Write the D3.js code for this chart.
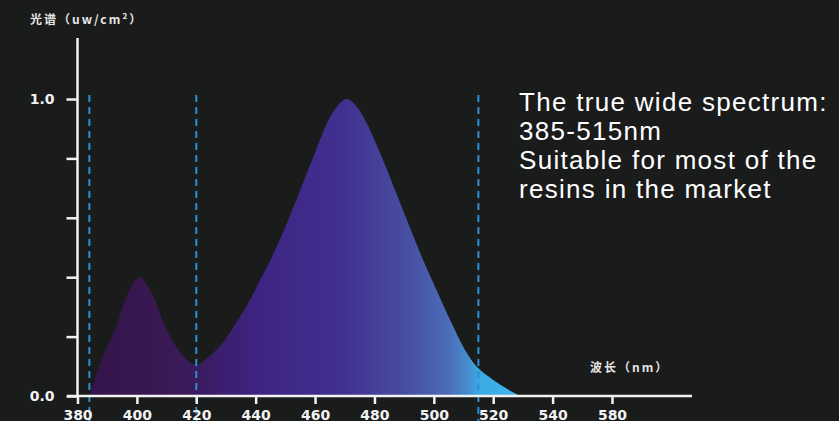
<!DOCTYPE html>
<html>
<head>
<meta charset="utf-8">
<script src="https://cdn.jsdelivr.net/npm/d3@7"></script>
<style>
  html, body { margin: 0; padding: 0; background: #1a1b1b; }
  svg { display: block; }
</style>
</head>
<body>
<svg id="chart" width="839" height="421"></svg>
<script>
// ---- data ----
const wavelengths = [384, 388, 393, 397, 400.8, 405, 409.5, 413, 416.8, 420, 424, 429, 433, 437.5, 441.5, 445.5, 450.5, 455, 459.5, 464, 467, 470.6, 474, 477.4, 482.4, 486.9, 491.4, 495.9, 500.9, 506, 510.5, 514.4, 520, 524.5, 529];
const intensity   = [0, 0.12, 0.233, 0.346, 0.40, 0.346, 0.233, 0.17, 0.121, 0.104, 0.13, 0.18, 0.24, 0.313, 0.39, 0.469, 0.581, 0.694, 0.806, 0.918, 0.97, 1.0, 0.975, 0.918, 0.806, 0.694, 0.581, 0.469, 0.357, 0.245, 0.155, 0.099, 0.054, 0.025, 0];
const xTickValues = [380, 400, 420, 440, 460, 480, 500, 520, 540, 560];
const xTickLabels = ["380", "400", "420", "440", "460", "480", "500", "520", "540", "580"];
const yTickValues = [0, 0.2, 0.4, 0.6, 0.8, 1.0];
const yTickLabels = ["0.0", "", "", "", "", "1.0"];
const markerWavelengths = [384, 420, 515];
const yAxisTitle = "光谱（uw/cm²）";
const xAxisTitle = "波长（nm）";
const noteLines = ["The true wide spectrum:", "385-515nm", "Suitable for most of the", "resins in the market"];
const gradientStops = [
  [384, "#33144a"], [405, "#391851"], [420, "#3b1b5e"], [440, "#3d2382"],
  [470, "#41318f"], [492, "#4850a3"], [505, "#4a6db8"], [511, "#4889cb"],
  [515, "#3aa9e4"], [530, "#45b6ec"]
];

// ---- layout ----
const svg = d3.select("#chart");
svg.append("rect").attr("width", 839).attr("height", 421).attr("fill", "#1a1b1b");

const x = d3.scaleLinear().domain([380, 560]).range([77.5, 612]);
const y = d3.scaleLinear().domain([0, 1.2]).range([396, 39.6]);

const data = wavelengths.map((w, i) => ({ w, v: intensity[i] }));

// gradient
const defs = svg.append("defs");
const grad = defs.append("linearGradient")
  .attr("id", "specGrad")
  .attr("gradientUnits", "userSpaceOnUse")
  .attr("x1", x(384)).attr("x2", x(530)).attr("y1", 0).attr("y2", 0);
gradientStops.forEach(([w, c]) => {
  grad.append("stop").attr("offset", (w - 384) / (530 - 384)).attr("stop-color", c);
});
defs.append("clipPath").attr("id", "plotClip").append("rect")
  .attr("x", 0).attr("y", 0).attr("width", 839).attr("height", y(0));

const area = d3.area()
  .x(d => x(d.w))
  .y0(y(0))
  .y1(d => y(d.v))
  .curve(d3.curveCatmullRom.alpha(0.5));

svg.append("path").datum(data).attr("d", area).attr("fill", "url(#specGrad)")
  .attr("clip-path", "url(#plotClip)");

// dashed markers
svg.selectAll("line.marker").data(markerWavelengths).enter().append("line")
  .attr("class", "marker")
  .attr("x1", d => x(d)).attr("x2", d => x(d))
  .attr("y1", y(1.0) - 4).attr("y2", 421)
  .attr("stroke", "#2b8fd6").attr("stroke-width", 2)
  .attr("stroke-dasharray", "7,5");

const axisColor = "#f2f2f2";

// y axis
const yAxis = d3.axisLeft(y).tickValues(yTickValues)
  .tickFormat((d, i) => yTickLabels[i]).tickSize(11).tickPadding(12).tickSizeOuter(0);
const gy = svg.append("g").attr("transform", `translate(${x(380)},0)`).call(yAxis);
gy.select(".domain").remove();
gy.selectAll(".tick line").attr("stroke", axisColor).attr("stroke-width", 2.5);
gy.selectAll(".tick text").attr("fill", axisColor)
  .style("font-family", "'DejaVu Sans', sans-serif").style("font-weight", "bold").style("font-size", "14px");
svg.append("line").attr("x1", x(380)).attr("x2", x(380)).attr("y1", 38).attr("y2", y(0))
  .attr("stroke", axisColor).attr("stroke-width", 2.5);

// x axis
const xAxis = d3.axisBottom(x).tickValues(xTickValues)
  .tickFormat((d, i) => xTickLabels[i]).tickSize(8).tickSizeOuter(0);
const gx = svg.append("g").attr("transform", `translate(0,${y(0)})`).call(xAxis);
gx.select(".domain").remove();
gx.selectAll(".tick line").attr("stroke", axisColor).attr("stroke-width", 2.5);
gx.selectAll(".tick text").attr("fill", axisColor).attr("y", 23.5).attr("dy", 0)
  .style("font-family", "'DejaVu Sans', sans-serif").style("font-weight", "bold").style("font-size", "14px");
svg.append("line").attr("x1", 67).attr("x2", 692).attr("y1", y(0)).attr("y2", y(0))
  .attr("stroke", axisColor).attr("stroke-width", 2.5);

// axis titles
svg.append("text").attr("x", 30).attr("y", 24).text(yAxisTitle)
  .attr("fill", "#e6e6e6")
  .style("font-family", "'Noto Sans CJK SC', sans-serif").style("font-weight", "bold")
  .style("font-size", "12px").style("letter-spacing", "2px");
svg.append("text").attr("x", 590).attr("y", 372).text(xAxisTitle)
  .attr("fill", "#e6e6e6")
  .style("font-family", "'Noto Sans CJK SC', sans-serif").style("font-weight", "bold")
  .style("font-size", "12px").style("letter-spacing", "2px");

// note
svg.append("g").selectAll("text").data(noteLines).enter().append("text")
  .attr("x", 519).attr("y", (d, i) => 111 + i * 29)
  .text(d => d)
  .attr("fill", "#ffffff")
  .style("font-family", "'Liberation Sans', Arial, sans-serif")
  .style("font-size", "26px").style("letter-spacing", "1.3px");
</script>
</body>
</html>
